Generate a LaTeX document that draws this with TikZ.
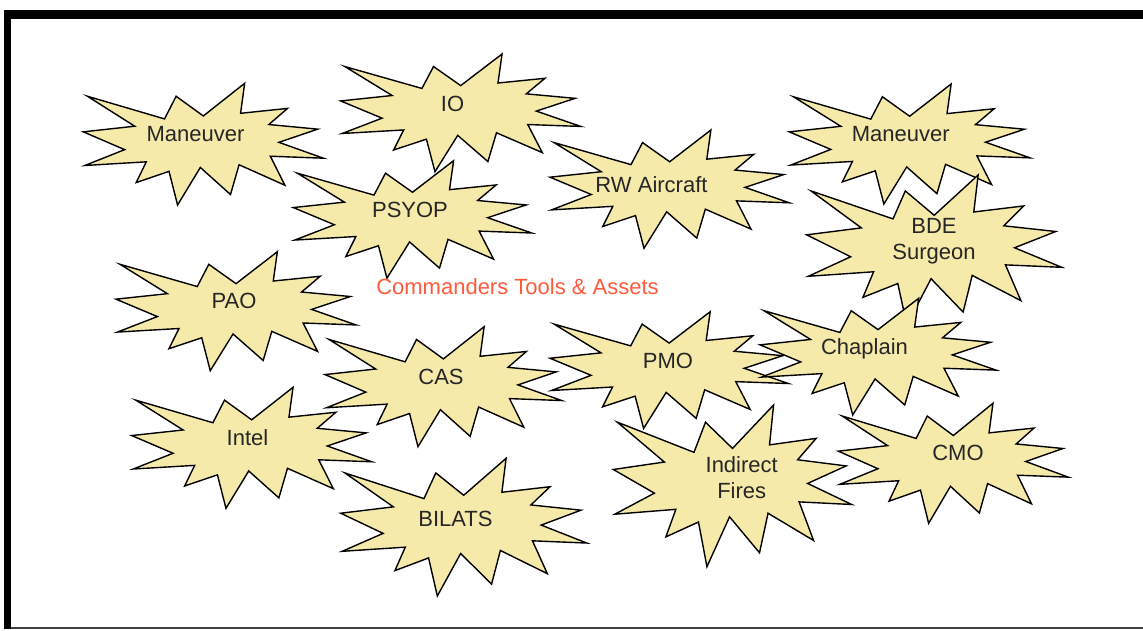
\documentclass[tikz,border=0pt]{standalone}
\usepackage{fontspec}
\setmainfont{Liberation Sans}
\usepackage{tikz}
\definecolor{blastfill}{HTML}{F6EAAA}
\definecolor{titlered}{HTML}{FF5A3C}

\begin{document}
\begin{tikzpicture}[
        x=1pt, y=-1pt,
        every node/.style={font=\fontsize{22}{26}\selectfont},
        blast/.style={draw=black, line width=1.4pt, fill=blastfill},
        lbl/.style={text=black!85, align=center, inner sep=0pt},
        rim/.style={fill=black}
    ]
    \useasboundingbox (0,0) rectangle (1143,630);
    % explosion outline, unit box (0,0)-(1,1)
    \def\Blast{(0.5000,0.2685) -- (0.6723,0) -- (0.6553,0.2465) -- (0.8509,0.2063)
        -- (0.7732,0.3387) -- (0.9767,0.3767) -- (0.8151,0.4850) -- (1,0.6153)
        -- (0.7795,0.5992) -- (0.8400,0.8377) -- (0.6491,0.6693) -- (0.6133,0.9138)
        -- (0.4876,0.6914) -- (0.3928,1) -- (0.3572,0.7235) -- (0.2205,0.8156)
        -- (0.2624,0.6452) -- (0.0063,0.6753) -- (0.1723,0.5451) -- (0,0.3988)
        -- (0.2142,0.3526) -- (0.0171,0.1063) -- (0.3385,0.2926) -- (0.3867,0.1063) -- cycle}

    % ================= frame =========================
    \fill[rim] (4,10) rectangle (1143,19);
    \fill[rim] (4,10) rectangle (11,629);
    \draw[black!75, line width=1.6pt] (11,628) -- (1143,628);

    % ================= tools and assets ==============
    \foreach \nm/\bx/\by/\bw/\bh/\tx/\ty/\lbl in {
            io/340.7/54/240/117.7/452.5/104/IO,
            man1/83.3/83.3/240/121.7/195.5/134/Maneuver,
            psyop/293.3/160.7/238.4/117.5/410/210/PSYOP,
            rw/550/130/239.3/118.3/651.5/185/RW Aircraft,
            man2/789.3/84/240.7/120/900.8/134/Maneuver,
            bde/806.7/175/255/150/934/241/{BDE\\Surgeon},
            pao/116/251.7/240/119/234/301/PAO,
            cas/325/326.7/236.7/120/441/377/CAS,
            pmo/550/311.7/238.3/116.7/668/361/PMO,
            chap/760/298.3/236/116.7/864.5/348.5/Chaplain,
            intel/131.7/387.3/240/121/247.5/438/Intel,
            bilats/340.7/458.3/246/137.7/455.5/519/BILATS,
            fires/613.3/405/238.4/161.7/741.7/478/{Indirect\\Fires},
            cmo/838.3/403.3/230/120/958/452.7/CMO}{
        \begin{scope}[shift={(\bx,\by)}, xscale=\bw, yscale=\bh]
            \path[blast] \Blast;
        \end{scope}
        \node[lbl] (\nm) at (\tx,\ty) {\lbl};
    }

    \node[text=titlered] (title) at (517.5,286.7) {Commanders Tools \& Assets};
\end{tikzpicture}
\end{document}
